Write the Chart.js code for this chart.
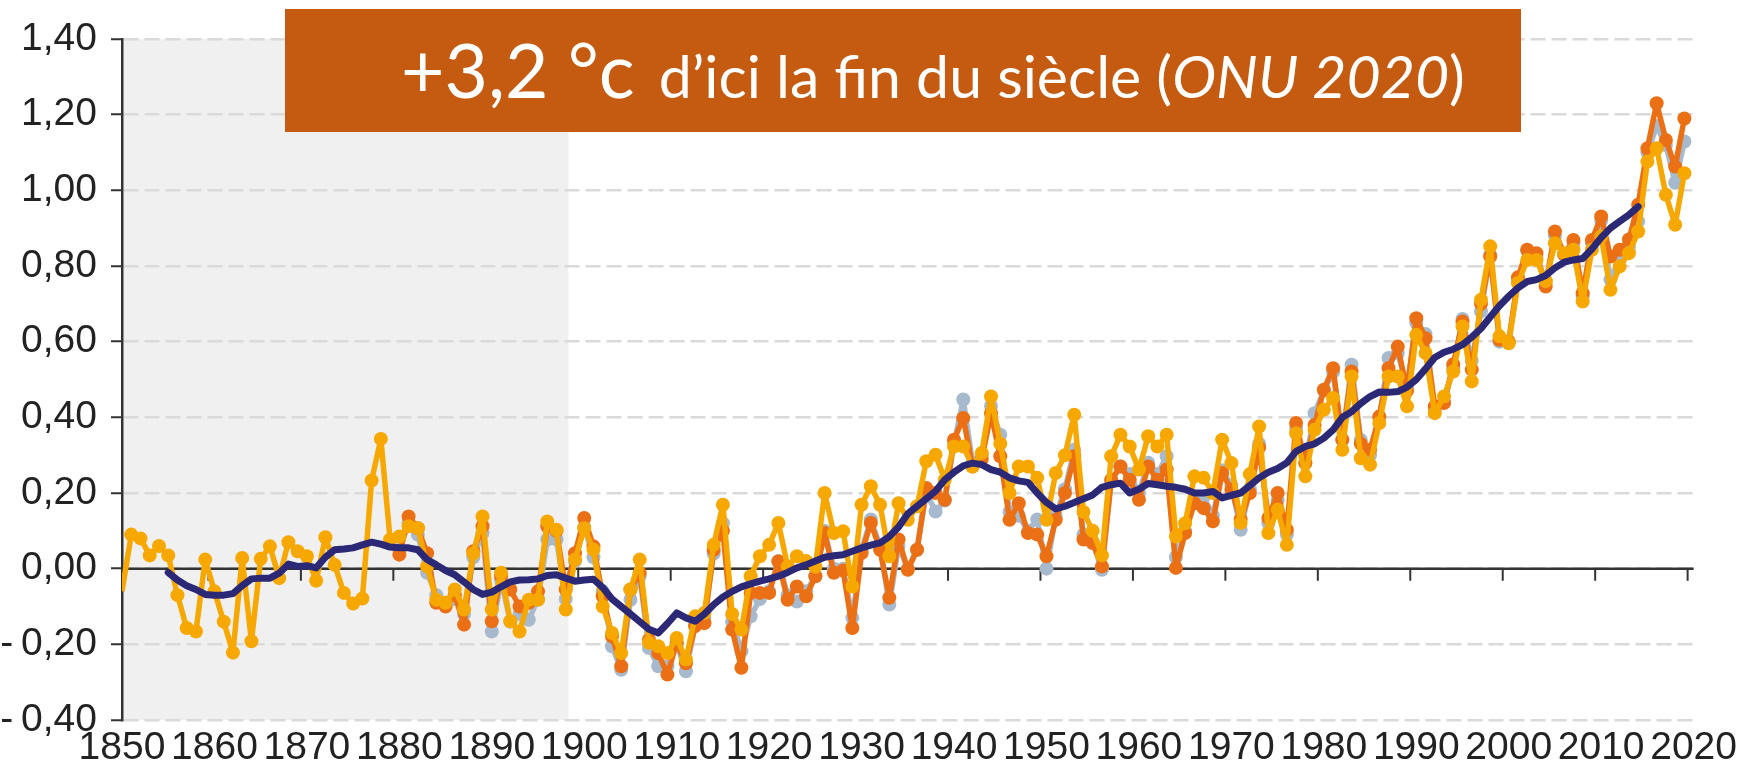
<!DOCTYPE html>
<html lang="fr">
<head>
<meta charset="utf-8">
<title>Anomalie de température globale</title>
<script src="https://cdn.jsdelivr.net/npm/chart.js@4.4.1/dist/chart.umd.min.js"></script>
<style>
  html, body { margin: 0; padding: 0; background: #fff; }
  #wrap { position: relative; width: 1742px; height: 768px; }
  #banner {
    position: absolute; left: 285px; top: 9px; width: 1236px; height: 123px;
    background: #c55a11; color: #fff; font-family: Lato, "Open Sans", sans-serif;
  }
  #banner .txt { position: absolute; left: 116px; top: 10px; line-height: 100px; font-size: 75px; white-space: nowrap; }
  #banner .small { font-size: 59px; margin-left: 9px; }
</style>
</head>
<body>
<div id="wrap">
  <canvas id="tempChart"></canvas>
  <div id="banner"><div class="txt">+3,2 °c<span class="small"> d’ici la fin du siècle (<i>ONU 2020</i>)</span></div></div>
</div>
<script>
// first year of each series
const yellowStart = 1850;
const orangeStart = 1880;
const greyStart = 1880;
const smoothStart = 1855;

// yearly anomalies (°C), one row per decade
const yellowValues = [
  -0.06, 0.09, 0.08, 0.035, 0.06, 0.035, -0.07, -0.157, -0.166, 0.024,
  -0.06, -0.14, -0.222, 0.028, -0.192, 0.026, 0.059, -0.025, 0.07, 0.046,
  0.033, -0.032, 0.083, 0.01, -0.064, -0.092, -0.079, 0.233, 0.343, 0.077,
  0.085, 0.112, 0.107, 0.006, -0.082, -0.09, -0.055, -0.108, 0.04, 0.138,
  -0.108, -0.011, -0.139, -0.166, -0.082, -0.082, 0.125, 0.103, -0.108, 0.024,
  0.107, 0.05, -0.1, -0.17, -0.223, -0.055, 0.024, -0.196, -0.205, -0.223,
  -0.183, -0.24, -0.126, -0.117, 0.063, 0.169, -0.12, -0.161, -0.02, 0.033,
  0.063, 0.121, 0.006, 0.033, 0.02, 0.005, 0.2, 0.094, 0.099, -0.047,
  0.169, 0.218, 0.169, 0.033, 0.173, 0.129, 0.165, 0.284, 0.301, 0.235,
  0.323, 0.323, 0.27, 0.306, 0.455, 0.33, 0.2, 0.27, 0.27, 0.24,
  0.129, 0.253, 0.3, 0.407, 0.15, 0.1, 0.035, 0.297, 0.354, 0.323,
  0.262, 0.35, 0.323, 0.354, 0.085, 0.12, 0.244, 0.24, 0.2, 0.341,
  0.279, 0.121, 0.25, 0.376, 0.094, 0.156, 0.063, 0.358, 0.244, 0.367,
  0.42, 0.451, 0.314, 0.508, 0.292, 0.275, 0.385, 0.508, 0.508, 0.429,
  0.618, 0.57, 0.411, 0.455, 0.521, 0.64, 0.495, 0.711, 0.852, 0.614,
  0.596, 0.755, 0.816, 0.816, 0.76, 0.86, 0.834, 0.843, 0.706, 0.843,
  0.878, 0.737, 0.799, 0.834, 0.891, 1.076, 1.111, 0.988, 0.909, 1.045
];

const orangeValues = [
  0.037, 0.138, 0.107, 0.041, -0.09, -0.1, -0.07, -0.148, 0.046, 0.112,
  -0.139, -0.02, -0.055, -0.1, -0.09, -0.06, 0.112, 0.1, -0.055, 0.041,
  0.134, 0.059, -0.073, -0.179, -0.258, -0.055, -0.011, -0.188, -0.223, -0.28,
  -0.196, -0.25, -0.152, -0.144, 0.05, 0.1, -0.161, -0.262, -0.064, -0.064,
  -0.064, 0.019, -0.082, -0.047, -0.073, -0.02, 0.094, -0.011, -0.005, -0.157,
  0.041, 0.121, 0.05, -0.077, 0.077, -0.003, 0.05, 0.213, 0.2, 0.182,
  0.341, 0.398, 0.27, 0.29, 0.41, 0.297, 0.129, 0.173, 0.094, 0.09,
  0.033, 0.129, 0.2, 0.297, 0.077, 0.068, 0.006, 0.235, 0.27, 0.235,
  0.182, 0.27, 0.235, 0.262, 0.002, 0.094, 0.173, 0.16, 0.125, 0.253,
  0.209, 0.13, 0.2, 0.32, 0.134, 0.2, 0.103, 0.385, 0.279, 0.38,
  0.473, 0.53, 0.341, 0.521, 0.33, 0.314, 0.402, 0.53, 0.587, 0.47,
  0.662, 0.609, 0.429, 0.438, 0.54, 0.653, 0.526, 0.7, 0.825, 0.605,
  0.6, 0.77, 0.843, 0.834, 0.746, 0.891, 0.83, 0.869, 0.728, 0.869,
  0.931, 0.825, 0.843, 0.87, 0.962, 1.111, 1.23, 1.133, 1.063, 1.19
];

const greyValues = [
  0.05, 0.12, 0.09, -0.011, -0.07, -0.09, -0.08, -0.12, 0.03, 0.094,
  -0.166, -0.03, -0.14, -0.12, -0.135, -0.08, 0.077, 0.077, -0.08, 0.02,
  0.11, 0.03, -0.06, -0.205, -0.267, -0.082, -0.02, -0.21, -0.258, -0.258,
  -0.2, -0.271, -0.15, -0.13, 0.04, 0.12, -0.14, -0.218, -0.126, -0.08,
  -0.06, 0.02, -0.07, -0.087, -0.06, -0.02, 0.1, 0.0, 0.0, -0.13,
  0.05, 0.13, 0.06, -0.095, 0.06, 0.0, 0.05, 0.2, 0.151, 0.18,
  0.33, 0.447, 0.28, 0.3, 0.43, 0.354, 0.15, 0.14, 0.1, 0.13,
  0.0, 0.14, 0.21, 0.314, 0.09, 0.07, -0.003, 0.23, 0.27, 0.25,
  0.2, 0.28, 0.25, 0.297, 0.03, 0.1, 0.18, 0.19, 0.14, 0.26,
  0.22, 0.103, 0.21, 0.33, 0.12, 0.18, 0.09, 0.37, 0.28, 0.411,
  0.47, 0.52, 0.34, 0.539, 0.34, 0.3, 0.4, 0.557, 0.57, 0.48,
  0.65, 0.62, 0.42, 0.44, 0.53, 0.66, 0.55, 0.68, 0.83, 0.6,
  0.6, 0.76, 0.84, 0.82, 0.76, 0.88, 0.83, 0.86, 0.72, 0.86,
  0.92, 0.764, 0.82, 0.85, 0.918, 1.1, 1.17, 1.12, 1.02, 1.129
];

// smoothed curve, 1855-2014
const smoothValues = [
  -0.01, -0.03, -0.045, -0.055, -0.068,
  -0.07, -0.07, -0.066, -0.045, -0.027, -0.025, -0.025, -0.012, 0.012, 0.006,
  0.008, 0.002, 0.03, 0.05, 0.052, 0.055, 0.063, 0.07, 0.065, 0.057,
  0.055, 0.055, 0.05, 0.024, 0.01, -0.005, -0.016, -0.035, -0.055, -0.068,
  -0.062, -0.048, -0.035, -0.03, -0.029, -0.027, -0.018, -0.016, -0.025, -0.033,
  -0.03, -0.028, -0.05, -0.08, -0.1, -0.12, -0.14, -0.16, -0.17, -0.145,
  -0.117, -0.13, -0.139, -0.12, -0.095, -0.075, -0.06, -0.048, -0.04, -0.033,
  -0.027, -0.02, -0.01, 0.002, 0.01, 0.02, 0.03, 0.034, 0.037, 0.046,
  0.055, 0.062, 0.068, 0.085, 0.11, 0.145, 0.165, 0.185, 0.205, 0.235,
  0.255, 0.272, 0.279, 0.275, 0.262, 0.255, 0.24, 0.232, 0.228, 0.2,
  0.175, 0.158, 0.165, 0.175, 0.185, 0.195, 0.215, 0.222, 0.226, 0.2,
  0.21, 0.225, 0.222, 0.218, 0.215, 0.21, 0.2, 0.2, 0.204, 0.187,
  0.194, 0.2, 0.22, 0.24, 0.255, 0.265, 0.28, 0.31, 0.323, 0.33,
  0.345, 0.367, 0.4, 0.415, 0.437, 0.455, 0.467, 0.466, 0.468, 0.48,
  0.5, 0.528, 0.558, 0.572, 0.58, 0.592, 0.612, 0.635, 0.665, 0.695,
  0.72, 0.742, 0.759, 0.764, 0.775, 0.795, 0.81, 0.816, 0.82, 0.845,
  0.875, 0.9, 0.918, 0.935, 0.957
];

const xTickValues = [1850, 1860, 1870, 1880, 1890, 1900, 1910, 1920, 1930, 1940,
                     1950, 1960, 1970, 1980, 1990, 2000, 2010, 2020];
const yTickValues = [-0.4, -0.2, 0, 0.2, 0.4, 0.6, 0.8, 1.0, 1.2, 1.4];
const shadeFrom = 1850;
const shadeTo = 1898.3;

function toPoints(start, values) {
  return values.map((v, i) => ({ x: start + i, y: v }));
}

function formatTemp(v) {
  const s = Math.abs(v).toFixed(2).replace('.', ',');
  return v < -0.001 ? '-\u2009' + s : s;
}

// grey reference period behind the grid
const shadePlugin = {
  id: 'shade',
  beforeDraw(chart) {
    const { ctx, chartArea, scales: { x } } = chart;
    const left = x.getPixelForValue(shadeFrom);
    const right = x.getPixelForValue(shadeTo);
    ctx.save();
    ctx.fillStyle = '#f0f0f0';
    ctx.fillRect(left, chartArea.top, right - left, chartArea.bottom - chartArea.top);
    ctx.restore();
  }
};

// black line at 0 with the decade ticks hanging from it
const zeroPlugin = {
  id: 'zeroLine',
  beforeDatasetsDraw(chart) {
    const { ctx, chartArea, scales: { x, y } } = chart;
    const y0 = y.getPixelForValue(0);
    ctx.save();
    ctx.strokeStyle = '#333';
    ctx.lineWidth = 2.5;
    ctx.beginPath();
    ctx.moveTo(chartArea.left, y0);
    ctx.lineTo(chartArea.right, y0);
    ctx.stroke();
    ctx.lineWidth = 2;
    ctx.beginPath();
    x.ticks.forEach(t => {
      const px = x.getPixelForValue(t.value) - 6;
      if (px < chartArea.left) return;
      ctx.moveTo(px, y0);
      ctx.lineTo(px, y0 + 12);
    });
    ctx.stroke();
    ctx.restore();
  }
};

const tickFont = { family: "'Liberation Sans Narrow', 'Liberation Sans', Arial, sans-serif", size: 39 };

function seriesStyle(color) {
  return {
    borderColor: color,
    backgroundColor: color,
    borderWidth: 5.5,
    pointRadius: 7,
    pointBorderWidth: 0,
    borderJoinStyle: 'round',
    clip: 0
  };
}

const chart = new Chart(document.getElementById('tempChart'), {
  type: 'line',
  data: {
    datasets: [
      {
        label: 'Moyenne lissée',
        data: toPoints(smoothStart, smoothValues),
        borderColor: '#2b2876',
        borderWidth: 7,
        pointRadius: 0,
        borderJoinStyle: 'round',
        borderCapStyle: 'round'
      },
      Object.assign({ label: 'Série 1', data: toPoints(yellowStart, yellowValues) }, seriesStyle('#f7a800'),
        { pointRadius: c => (c.dataIndex === 0 ? 0 : 7) }),
      Object.assign({ label: 'Série 2', data: toPoints(orangeStart, orangeValues) }, seriesStyle('#eb6f14')),
      Object.assign({ label: 'Série 3', data: toPoints(greyStart, greyValues) }, seriesStyle('#a7b9cc'))
    ]
  },
  options: {
    responsive: true,
    maintainAspectRatio: false,
    animation: false,
    events: [],
    layout: { padding: { top: 39, right: 41, bottom: 0, left: 0 } },
    plugins: { legend: { display: false }, tooltip: { enabled: false } },
    scales: {
      x: {
        type: 'linear',
        min: 1850,
        max: 2020,
        afterBuildTicks: s => { s.ticks = xTickValues.map(v => ({ value: v })); },
        afterFit: s => { s.height = 48; },
        ticks: {
          font: tickFont,
          color: '#222',
          padding: 5,
          maxRotation: 0,
          autoSkip: false,
          callback: v => String(v)
        },
        grid: { display: false, drawTicks: false },
        border: { display: false }
      },
      y: {
        min: -0.4,
        max: 1.4,
        afterBuildTicks: s => { s.ticks = yTickValues.map(v => ({ value: v })); },
        afterFit: s => { s.width = 122; },
        ticks: {
          font: tickFont,
          color: '#222',
          padding: 14,
          callback: v => formatTemp(v)
        },
        grid: { color: '#dadada', lineWidth: 2.5, tickLength: 11, tickColor: '#333', tickWidth: 2 },
        border: { display: true, color: '#333', width: 2.5, dash: [15, 6] }
      }
    }
  },
  plugins: [shadePlugin, zeroPlugin]
});
</script>
</body>
</html>
